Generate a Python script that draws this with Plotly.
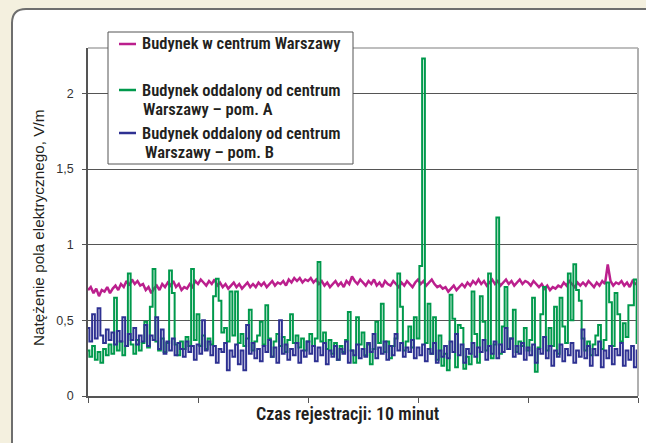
import plotly.graph_objects as go

# time axis (seconds over 10 minutes)
t_seconds = list(range(0, 601, 3))

centrum = [
    0.70,0.72,0.68,0.71,0.66,0.70,0.69,0.72,0.68,0.71,
    0.73,0.70,0.74,0.72,0.76,0.73,0.77,0.74,0.76,0.73,
    0.74,0.70,0.72,0.68,0.71,0.73,0.70,0.74,0.72,0.75,
    0.73,0.76,0.72,0.74,0.70,0.72,0.71,0.74,0.72,0.76,
    0.74,0.77,0.75,0.73,0.76,0.74,0.77,0.73,0.75,0.72,
    0.74,0.71,0.73,0.75,0.72,0.74,0.71,0.73,0.75,0.72,
    0.74,0.72,0.75,0.73,0.75,0.72,0.74,0.76,0.73,0.75,
    0.74,0.76,0.73,0.77,0.75,0.78,0.76,0.78,0.75,0.77,
    0.76,0.78,0.75,0.77,0.74,0.76,0.73,0.75,0.72,0.74,
    0.76,0.73,0.75,0.72,0.76,0.74,0.79,0.76,0.74,0.77,
    0.75,0.73,0.76,0.74,0.77,0.73,0.75,0.72,0.76,0.74,
    0.73,0.76,0.74,0.72,0.75,0.73,0.76,0.74,0.72,0.75,
    0.77,0.74,0.76,0.73,0.75,0.77,0.74,0.72,0.73,0.71,
    0.72,0.69,0.71,0.73,0.70,0.72,0.74,0.72,0.75,0.73,
    0.76,0.74,0.77,0.74,0.76,0.73,0.75,0.77,0.74,0.76,
    0.73,0.75,0.77,0.74,0.76,0.73,0.75,0.77,0.74,0.76,
    0.75,0.73,0.76,0.74,0.72,0.74,0.71,0.73,0.70,0.72,
    0.71,0.73,0.72,0.75,0.73,0.76,0.74,0.72,0.75,0.73,
    0.75,0.73,0.76,0.74,0.72,0.75,0.73,0.76,0.74,0.87,
    0.76,0.73,0.75,0.74,0.76,0.73,0.75,0.72,0.76,0.74,0.75,
]

pom_a = [
    0.30,0.26,0.33,0.24,0.29,0.22,0.31,0.27,0.34,0.28,
    0.65,0.30,0.36,0.27,0.33,0.81,0.34,0.28,0.37,0.30,
    0.35,0.49,0.32,0.59,0.84,0.36,0.30,0.38,0.29,0.35,
    0.83,0.68,0.34,0.27,0.36,0.31,0.39,0.33,0.84,0.37,
    0.54,0.33,0.40,0.31,0.38,0.34,0.66,0.775,0.63,0.42,
    0.45,0.36,0.69,0.40,0.69,0.35,0.41,0.33,0.38,0.57,
    0.30,0.36,0.40,0.49,0.34,0.60,0.38,0.26,0.36,0.41,
    0.33,0.39,0.29,0.37,0.54,0.35,0.40,0.32,0.38,0.30,
    0.36,0.41,0.33,0.38,0.885,0.36,0.42,0.31,0.37,0.28,
    0.35,0.24,0.33,0.29,0.37,0.555,0.30,0.22,0.52,0.34,
    0.42,0.27,0.34,0.21,0.31,0.49,0.35,0.61,0.29,0.36,
    0.25,0.33,0.38,0.81,0.59,0.30,0.36,0.46,0.32,0.52,
    0.38,0.86,2.23,0.35,0.61,0.28,0.52,0.24,0.40,0.20,
    0.28,0.17,0.67,0.51,0.19,0.47,0.45,0.18,0.26,0.21,
    0.69,0.41,0.22,0.66,0.49,0.30,0.81,0.25,0.34,1.18,
    0.28,0.46,0.72,0.31,0.38,0.57,0.29,0.36,0.33,0.45,
    0.30,0.37,0.65,0.16,0.32,0.54,0.72,0.30,0.45,0.33,
    0.59,0.28,0.65,0.46,0.35,0.81,0.50,0.87,0.70,0.63,
    0.38,0.30,0.36,0.27,0.34,0.40,0.47,0.31,0.37,0.75,
    0.62,0.33,0.68,0.54,0.36,0.48,0.39,0.60,0.60,0.77,0.35,
]

pom_b = [
    0.45,0.36,0.54,0.38,0.58,0.40,0.35,0.44,0.37,0.42,
    0.34,0.43,0.36,0.52,0.33,0.41,0.37,0.45,0.34,0.40,
    0.36,0.47,0.33,0.40,0.37,0.52,0.31,0.44,0.28,0.36,
    0.30,0.38,0.27,0.35,0.31,0.26,0.36,0.29,0.33,0.24,
    0.34,0.28,0.50,0.30,0.36,0.27,0.33,0.22,0.31,0.29,
    0.35,0.17,0.30,0.26,0.34,0.21,0.30,0.17,0.47,0.28,
    0.35,0.25,0.31,0.23,0.33,0.29,0.37,0.26,0.32,0.22,
    0.50,0.28,0.34,0.24,0.31,0.27,0.35,0.22,0.30,0.26,
    0.36,0.28,0.33,0.23,0.32,0.27,0.35,0.21,0.30,0.26,
    0.33,0.24,0.31,0.28,0.36,0.22,0.30,0.27,0.34,0.25,
    0.31,0.26,0.35,0.29,0.41,0.25,0.32,0.28,0.36,0.24,
    0.33,0.27,0.41,0.30,0.35,0.26,0.32,0.29,0.37,0.25,
    0.32,0.27,0.34,0.23,0.31,0.28,0.35,0.22,0.30,0.26,
    0.33,0.25,0.36,0.29,0.41,0.27,0.34,0.22,0.31,0.28,
    0.35,0.26,0.32,0.29,0.37,0.24,0.33,0.28,0.36,0.25,
    0.34,0.29,0.45,0.31,0.38,0.26,0.33,0.28,0.35,0.24,
    0.32,0.27,0.34,0.22,0.31,0.28,0.39,0.25,0.33,0.20,
    0.30,0.26,0.34,0.23,0.31,0.27,0.35,0.22,0.30,0.26,
    0.44,0.25,0.33,0.20,0.31,0.27,0.36,0.19,0.30,0.25,
    0.33,0.21,0.31,0.27,0.35,0.20,0.30,0.24,0.33,0.19,0.30,
]

series_names = [
    "Budynek w centrum Warszawy",
    "Budynek oddalony od centrum Warszawy – pom. A",
    "Budynek oddalony od centrum Warszawy – pom. B",
]
series_colors = ["#bb1f8d", "#00994c", "#2e3192"]
series_shapes = ["linear", "hvh", "hvh"]
series_widths = [2.5, 2, 2]

y_tickvals = [0, 0.5, 1, 1.5, 2]
y_ticktext = ["0", "0,5", "1", "1,5", "2"]
x_tickvals = [0, 120, 240, 360, 480, 600]

y_title = "Natężenie pola elektrycznego, V/m"
x_title = "Czas rejestracji: 10 minut"

# layout geometry (pixels)
W, H = 646, 443
L, R, T, B = 88, 8, 48, 47
PW, PH = W - L - R, H - T - B


def px(x):
    return (x - L) / PW


def py(y):
    return (H - B - y) / PH


fig = go.Figure()
for vals, name, col, shp, wd in zip([centrum, pom_a, pom_b], series_names,
                                    series_colors, series_shapes, series_widths):
    fig.add_trace(go.Scatter(x=t_seconds, y=vals, mode="lines", name=name,
                             line=dict(color=col, width=wd, shape=shp), showlegend=False))

cond = "Roboto, Open Sans, sans-serif"
txtc = "#231f20"


def narrow(s):
    return f'<span style="font-stretch:75%">{s}</span>'


# panel with rounded corner
x0, y0, x1, y1 = px(12), py(9), px(655), py(455)
rx, ry = 14 / PW, 14 / PH
panel = (f"M {x0},{y1} L {x0},{y0 - ry} Q {x0},{y0} {x0 + rx},{y0} "
         f"L {x1},{y0} L {x1},{y1} Z")
shapes = [
    dict(type="path", xref="paper", yref="paper", path=panel,
         fillcolor="white", line=dict(color="#6e6e6e", width=2), layer="below"),
    dict(type="line", xref="paper", yref="paper", x0=0, x1=1, y0=1, y1=1,
         line=dict(color="#a8a8a8", width=1.5)),
    dict(type="line", xref="paper", yref="paper", x0=1, x1=1, y0=0, y1=1,
         line=dict(color="#b0b0b0", width=2)),
    # legend box
    dict(type="rect", xref="paper", yref="paper", x0=px(108), x1=px(353),
         y0=py(164), y1=py(32), fillcolor="white",
         line=dict(color="#555555", width=1), layer="above"),
]
legend_y = [44, 90, 133]
for yy, col in zip(legend_y, series_colors):
    shapes.append(dict(type="line", xref="paper", yref="paper", x0=px(119), x1=px(136),
                       y0=py(yy), y1=py(yy), line=dict(color=col, width=2.5), layer="above"))

annotations = [
    dict(text=y_title, xref="paper", yref="paper", x=px(39), y=py(228), textangle=-90,
         showarrow=False, font=dict(family="Liberation Sans", size=15.3, color=txtc),
         xanchor="center", yanchor="middle"),
    dict(text=narrow(x_title), xref="paper", yref="paper", x=px(348), y=py(413),
         showarrow=False, font=dict(family=cond, size=18, color=txtc, weight=600),
         xanchor="center", yanchor="middle"),
]
legend_lines = [
    ("Budynek w centrum Warszawy", 140, 44),
    ("Budynek oddalony od centrum", 140, 90),
    ("Warszawy – pom. A", 141, 110),
    ("Budynek oddalony od centrum", 140, 133),
    ("Warszawy – pom. B", 143, 152),
]
for txt, xx, yy in legend_lines:
    annotations.append(dict(text=narrow(txt), xref="paper", yref="paper", x=px(xx), y=py(yy),
                            showarrow=False, xanchor="left", yanchor="middle",
                            font=dict(family=cond, size=16.5, color=txtc, weight=600)))

fig.update_layout(
    width=W, height=H,
    margin=dict(l=L, r=R, t=T, b=B, pad=0),
    paper_bgcolor="#f4f0df",
    plot_bgcolor="white",
    shapes=shapes,
    annotations=annotations,
    showlegend=False,
)
fig.update_xaxes(range=[0, 600], tickvals=x_tickvals, showticklabels=False,
                 ticks="outside", ticklen=5, tickcolor="#555555",
                 showgrid=False, zeroline=False, showline=True,
                 linecolor="#555555", linewidth=1.5)
fig.update_yaxes(range=[0, 2.3], tickvals=y_tickvals, ticktext=y_ticktext,
                 ticks="outside", ticklen=4, tickcolor="#555555",
                 showgrid=True, gridcolor="#555555", gridwidth=1,
                 zeroline=False, showline=True, linecolor="#555555", linewidth=1.5,
                 ticklabelstandoff=6,
                 tickfont=dict(family="Liberation Sans", size=12.5, color="#333333"))

fig.write_html("out.html", config={"displayModeBar": False},
               post_script="document.body.style.margin='0';")
